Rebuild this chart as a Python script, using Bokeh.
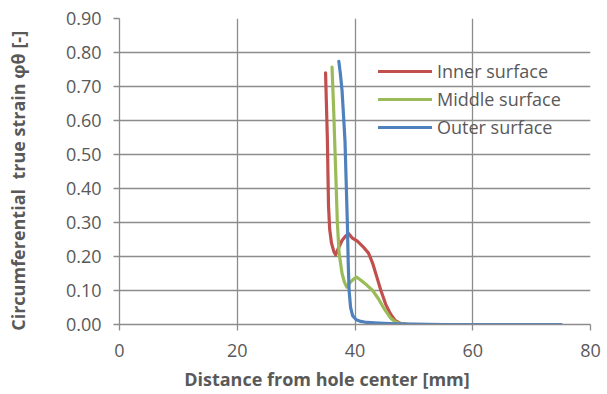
from bokeh.plotting import figure
from bokeh.models import Range1d, Legend, LegendItem, FixedTicker, NumeralTickFormatter
from bokeh.embed import file_html
from bokeh.resources import INLINE

# ---- data ----
inner_x = [35.0, 35.3, 35.5, 35.7, 36.0, 36.4, 36.7, 37.2, 37.8, 38.4, 38.9, 39.5, 40.4, 41.3, 42.3,
           43.0, 43.7, 44.4, 45.2, 46.0, 46.8, 47.7, 49.0, 55.0, 65.0, 75.0]
inner_y = [0.74, 0.55, 0.35, 0.28, 0.24, 0.215, 0.205, 0.225, 0.247, 0.26, 0.268, 0.255, 0.245, 0.23, 0.21,
           0.18, 0.14, 0.10, 0.06, 0.032, 0.012, 0.003, 0.0, 0.0, 0.0, 0.0]

middle_x = [36.1, 36.4, 36.7, 37.0, 37.3, 37.8, 38.2, 38.6, 39.2, 39.8, 40.3, 41.0, 42.0, 43.0, 44.0,
            45.0, 46.0, 46.8, 47.7, 49.0, 55.0, 65.0, 75.0]
middle_y = [0.757, 0.62, 0.46, 0.30, 0.21, 0.15, 0.125, 0.11, 0.124, 0.134, 0.139, 0.13, 0.116, 0.10, 0.075,
            0.045, 0.02, 0.008, 0.003, 0.0, 0.0, 0.0, 0.0]

outer_x = [37.25, 37.5, 37.8, 38.1, 38.3, 38.5, 38.7, 38.85, 39.0, 39.25, 39.6, 40.2, 41.0, 42.0, 44.0,
           47.0, 50.0, 55.0, 65.0, 75.0]
outer_y = [0.774, 0.74, 0.688, 0.60, 0.54, 0.42, 0.30, 0.18, 0.10, 0.05, 0.026, 0.014, 0.009, 0.006, 0.004,
           0.002, 0.001, 0.0, 0.0, 0.0]

series_names = ["Inner surface", "Middle surface", "Outer surface"]
series_colors = ["#C0504D", "#9BBB59", "#4F81BD"]

x_ticks = [0, 20, 40, 60, 80]
y_ticks = [0.0, 0.1, 0.2, 0.3, 0.4, 0.5, 0.6, 0.7, 0.8, 0.9]

x_title = "Distance from hole center [mm]"
y_title = "Circumferential\u00a0 true strain φθ [-]"

TXT = "#595959"
GRID = "#8c8c8c"
FONT = "Open Sans"
NB = "\u00a0"

p = figure(width=607, height=394, output_backend="svg", toolbar_location=None,
           x_range=Range1d(0, 80), y_range=Range1d(0, 0.9))
p.min_border_left = 119
p.min_border_right = 17
p.min_border_top = 18
p.min_border_bottom = 70
p.outline_line_color = None
p.background_fill_color = "white"
p.border_fill_color = "white"

p.xaxis.ticker = FixedTicker(ticks=x_ticks)
p.yaxis.ticker = FixedTicker(ticks=y_ticks)
p.yaxis.formatter = NumeralTickFormatter(format="0.00")

for ax in (p.xaxis[0], p.yaxis[0]):
    ax.axis_line_color = GRID
    ax.axis_line_width = 1.3
    ax.major_tick_line_color = GRID
    ax.major_tick_line_width = 1.3
    ax.major_tick_out = 6
    ax.major_tick_in = 0
    ax.minor_tick_line_color = None
    ax.major_label_text_font = FONT
    ax.major_label_text_font_size = "18px"
    ax.major_label_text_color = TXT
    ax.axis_label_text_font = FONT
    ax.axis_label_text_font_size = "18px"
    ax.axis_label_text_font_style = "bold"
    ax.axis_label_text_color = TXT

# trailing no-break spaces shift the centred titles like in the reference layout
p.xaxis.axis_label = x_title + NB * 12
p.yaxis.axis_label = y_title + NB * 4
p.xaxis.major_label_standoff = 13
p.yaxis.major_label_standoff = 12
p.xaxis.axis_label_standoff = 7
p.yaxis.axis_label_standoff = 33

p.xgrid.ticker = FixedTicker(ticks=x_ticks)
p.ygrid.ticker = FixedTicker(ticks=y_ticks)
for g in (p.xgrid[0], p.ygrid[0]):
    g.grid_line_color = GRID
    g.grid_line_width = 1.3

items = []
for name, xs, ys, c in zip(series_names, [inner_x, middle_x, outer_x], [inner_y, middle_y, outer_y], series_colors):
    r = p.line(xs, ys, line_color=c, line_width=3.2, line_cap="round", line_join="round")
    items.append(LegendItem(label=name, renderers=[r]))

legend = Legend(items=items, location=(259, 183), border_line_color=None, background_fill_alpha=0,
                label_text_font=FONT, label_text_font_size="18px", label_text_color=TXT,
                glyph_width=54, glyph_height=28, label_height=28, label_standoff=5,
                spacing=0, padding=0, margin=0)
p.add_layout(legend, "center")

open("out.html", "w").write(file_html(p, INLINE))
